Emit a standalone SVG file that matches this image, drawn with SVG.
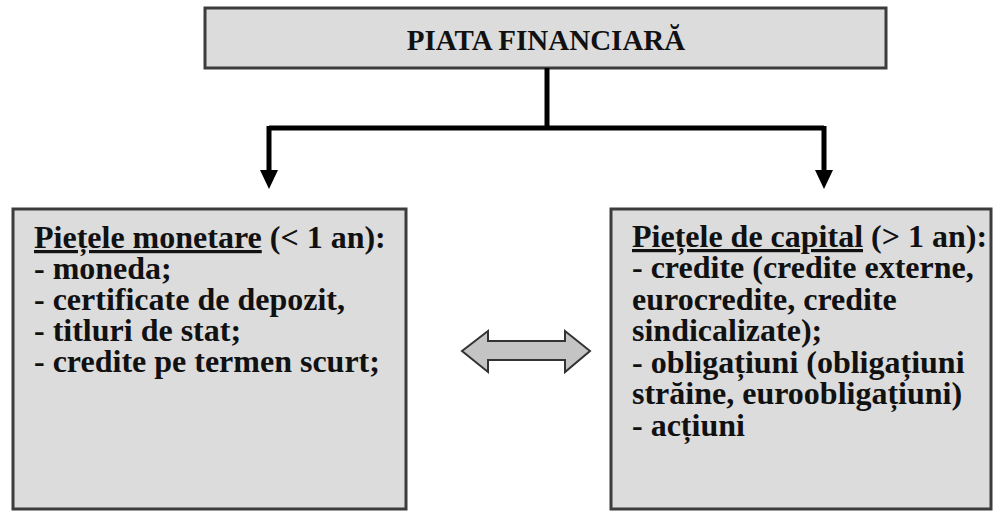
<svg xmlns="http://www.w3.org/2000/svg" width="998" height="511" viewBox="0 0 998 511">
<defs>
<style>
.box{fill:#dcdcdc;stroke:#3c3c3c;stroke-width:3}
.t{font-family:"Liberation Serif","Times New Roman",serif;font-weight:bold;fill:#111}
.conn{fill:none;stroke:#000;stroke-width:5}
.head{fill:#000}
</style>
</defs>
<rect width="998" height="511" fill="#fff"/>
<g id="piata">
<rect class="box" x="205" y="8" width="681" height="60"/>
<text class="t" x="546" y="50" font-size="29" text-anchor="middle">PIATA FINANCIARĂ</text>
</g>
<g id="connectors">
<path class="conn" d="M547 68 V128 M269 128 H824 M269 126 V172 M824 126 V172"/>
<polygon class="head" points="260,170 278,170 269,189"/>
<polygon class="head" points="815,170 833,170 824,189"/>
<polygon points="462,351 488,331 488,341 565,341 565,331 590,351 565,372 565,360 488,360 488,372" fill="#c4c4c4" stroke="#333" stroke-width="2" stroke-linejoin="miter"/>
</g>
<g id="monetare">
<rect class="box" x="13" y="209" width="393" height="300"/>
<text class="t" font-size="32">
<tspan x="34" y="248"><tspan text-decoration="underline">Piețele monetare</tspan> (&lt; 1 an):</tspan>
<tspan x="34" y="279">- moneda;</tspan>
<tspan x="34" y="310">- certificate de depozit,</tspan>
<tspan x="34" y="341">- titluri de stat;</tspan>
<tspan x="34" y="372">- credite pe termen scurt;</tspan>
</text>
</g>
<g id="capital">
<rect class="box" x="611" y="209" width="380" height="300"/>
<text class="t" font-size="32">
<tspan x="632" y="247"><tspan text-decoration="underline">Piețele de capital</tspan> (&gt; 1 an):</tspan>
<tspan x="632" y="278">- credite (credite externe,</tspan>
<tspan x="632" y="310">eurocredite, credite</tspan>
<tspan x="632" y="341">sindicalizate);</tspan>
<tspan x="632" y="373">- obligațiuni (obligațiuni</tspan>
<tspan x="632" y="404">străine, euroobligațiuni)</tspan>
<tspan x="632" y="436">- acțiuni</tspan>
</text>
</g>
</svg>
